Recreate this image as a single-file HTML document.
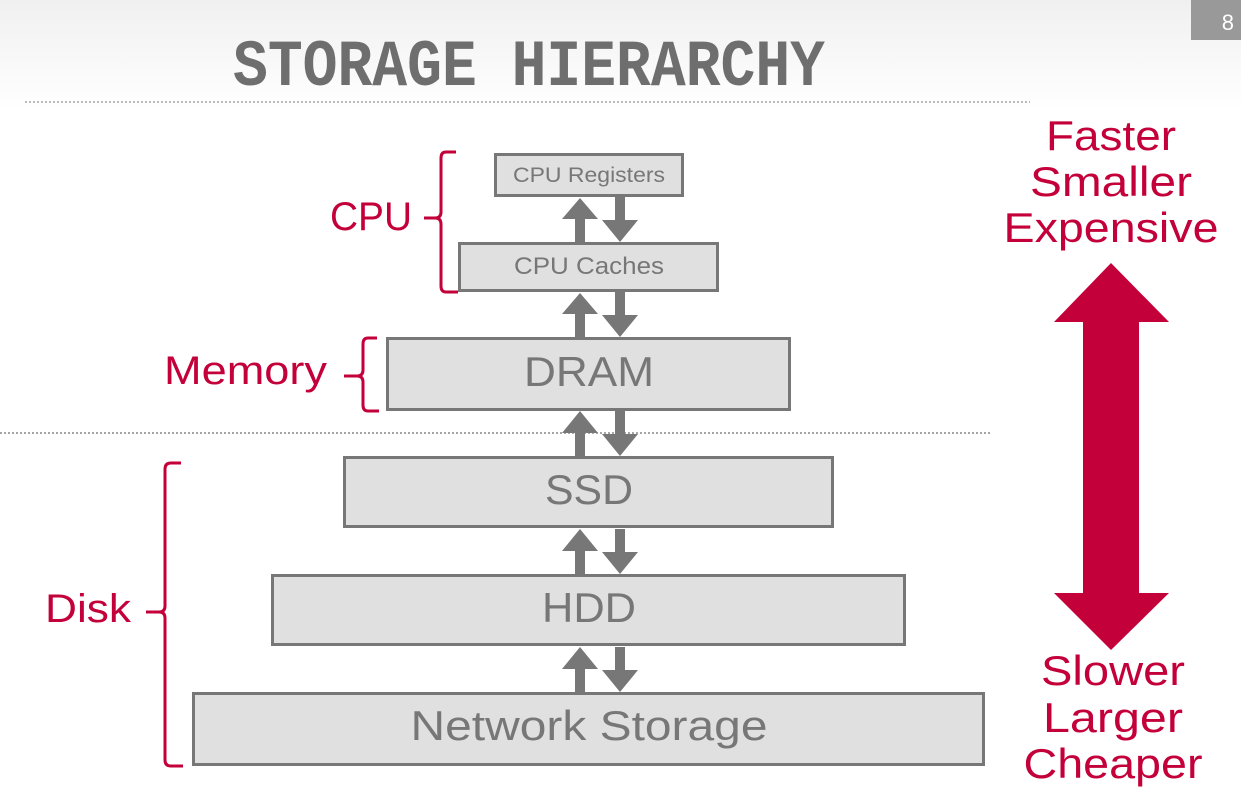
<!DOCTYPE html>
<html><head><meta charset="utf-8"><style>
html,body{margin:0;padding:0;width:1241px;height:793px;overflow:hidden;background:#fff}
svg{display:block}
</style></head><body>
<svg width="1241" height="793" viewBox="0 0 1241 793" xmlns="http://www.w3.org/2000/svg" font-family="Liberation Sans,sans-serif">
<defs><linearGradient id="bg" x1="0" y1="0" x2="0" y2="1"><stop offset="0" stop-color="#f0f0f0"/><stop offset="1" stop-color="#ffffff"/></linearGradient></defs>
<rect x="0" y="0" width="1241" height="110" fill="url(#bg)"/>
<rect x="1191" y="0" width="50" height="40" fill="#999"/>
<text x="1234" y="30" font-size="22" fill="#fff" text-anchor="end">8</text>
<text x="233" y="85" font-family="Liberation Mono,monospace" font-weight="bold" font-size="66" fill="#6e6e6e" textLength="592" lengthAdjust="spacingAndGlyphs">STORAGE HIERARCHY</text>
<line x1="25" y1="102" x2="1030" y2="102" stroke="#bbb" stroke-width="2" stroke-dasharray="2,2"/>
<line x1="0" y1="433" x2="990" y2="433" stroke="#888" stroke-width="1.5" stroke-dasharray="2,2"/>
<g fill="#e0e0e0" stroke="#777" stroke-width="3">
<rect x="495.5" y="154.5" width="187" height="41"/>
<rect x="459.5" y="243.5" width="258" height="47"/>
<rect x="387.5" y="338.5" width="402" height="71"/>
<rect x="344.5" y="457.5" width="488" height="69"/>
<rect x="272.5" y="575.5" width="632" height="69"/>
<rect x="193.5" y="693.5" width="790" height="71"/>
</g>
<g fill="#777" text-anchor="middle">
<text x="589" y="182" font-size="21" textLength="152" lengthAdjust="spacingAndGlyphs">CPU Registers</text>
<text x="589" y="274" font-size="24" textLength="150" lengthAdjust="spacingAndGlyphs">CPU Caches</text>
<text x="589" y="386" font-size="42" textLength="130" lengthAdjust="spacingAndGlyphs">DRAM</text>
<text x="589" y="504" font-size="42" textLength="88" lengthAdjust="spacingAndGlyphs">SSD</text>
<text x="589" y="622" font-size="42" textLength="94" lengthAdjust="spacingAndGlyphs">HDD</text>
<text x="589" y="740" font-size="42" textLength="357" lengthAdjust="spacingAndGlyphs">Network Storage</text>
</g>
<g fill="#777">
<path d="M575 242 V219 H562 L580 198 L598 219 H585 V242Z"/><path d="M615 197 V220 H602 L620 242 L638 220 H625 V197Z"/>
<path d="M575 337 V314 H562 L580 293 L598 314 H585 V337Z"/><path d="M615 292 V315 H602 L620 337 L638 315 H625 V292Z"/>
<path d="M575 456 V433 H562 L580 411 L598 433 H585 V456Z"/><path d="M615 411 V434 H602 L620 456 L638 434 H625 V411Z"/>
<path d="M575 574 V551 H562 L580 529 L598 551 H585 V574Z"/><path d="M615 529 V552 H602 L620 574 L638 552 H625 V529Z"/>
<path d="M575 692 V669 H562 L580 647 L598 669 H585 V692Z"/><path d="M615 647 V670 H602 L620 692 L638 670 H625 V647Z"/>
</g>
<g fill="none" stroke="#c4003a" stroke-width="3">
<path d="M456 152 H446 Q441 152 441 158 V212 Q441 218 435 218 H424 H435 Q441 218 441 224 V286 Q441 292 446 292 H458"/>
<path d="M377 338 H368 Q363 338 363 344 V370 Q363 376 357 376 H344 H357 Q363 376 363 382 V405 Q363 411 368 411 H379"/>
<path d="M181 463 H171 Q165 463 165 469 V606 Q165 612 159 612 H146 H159 Q165 612 165 618 V760 Q165 766 171 766 H183"/>
</g>
<g fill="#c4003a" font-size="40">
<text x="330" y="230" textLength="82" lengthAdjust="spacingAndGlyphs">CPU</text>
<text x="164" y="384" textLength="163" lengthAdjust="spacingAndGlyphs">Memory</text>
<text x="45" y="622" textLength="86" lengthAdjust="spacingAndGlyphs">Disk</text>
</g>
<g fill="#c4003a" font-size="42" text-anchor="middle">
<text x="1111" y="150" textLength="130" lengthAdjust="spacingAndGlyphs">Faster</text>
<text x="1111" y="196" textLength="162" lengthAdjust="spacingAndGlyphs">Smaller</text>
<text x="1111" y="242" textLength="215" lengthAdjust="spacingAndGlyphs">Expensive</text>
<text x="1113" y="685" textLength="144" lengthAdjust="spacingAndGlyphs">Slower</text>
<text x="1113" y="732" textLength="140" lengthAdjust="spacingAndGlyphs">Larger</text>
<text x="1113" y="778" textLength="179" lengthAdjust="spacingAndGlyphs">Cheaper</text>
</g>
<path fill="#c4003a" d="M1111 263 L1169 322 H1139 V593 H1169 L1111 650 L1054 593 H1083 V322 H1054Z"/>
</svg>
</body></html>
